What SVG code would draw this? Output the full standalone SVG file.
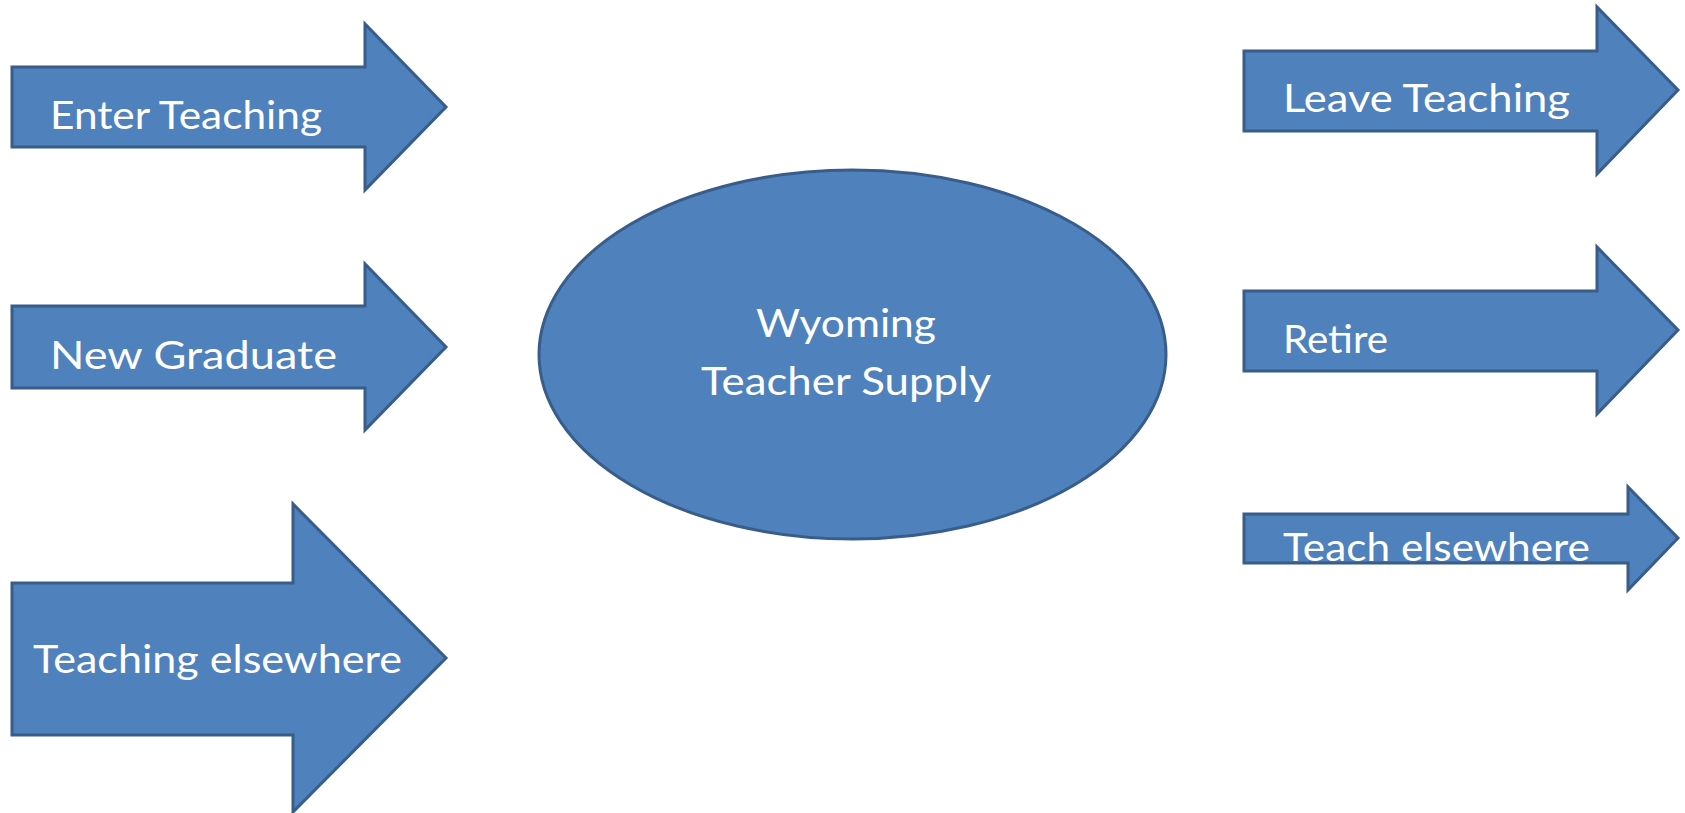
<svg xmlns="http://www.w3.org/2000/svg" width="1685" height="813" viewBox="0 0 1685 813">
<style>
.shape{fill:#4F81BD;stroke:#385D8A;stroke-width:3;stroke-linejoin:miter}
.lbl{font-family:Lato,"Open Sans","Liberation Sans",sans-serif;font-size:39px;fill:#FFFFFF}
</style>
<rect width="1685" height="813" fill="#FFFFFF"/>
<g id="enter-teaching">
<path class="shape" d="M12,67 H365 V24 L446,107 L365,190 V147 H12 Z"/>
<text class="lbl" x="50" y="129" textLength="272" lengthAdjust="spacingAndGlyphs">Enter Teaching</text>
</g>
<g id="new-graduate">
<path class="shape" d="M12,306 H365 V264 L446,347 L365,430 V388 H12 Z"/>
<text class="lbl" x="50" y="369" textLength="287" lengthAdjust="spacingAndGlyphs">New Graduate</text>
</g>
<g id="teaching-elsewhere">
<path class="shape" d="M12,583 H293 V504 L446,658 L293,812 V735 H12 Z"/>
<text class="lbl" x="33" y="673" textLength="369" lengthAdjust="spacingAndGlyphs">Teaching elsewhere</text>
</g>
<g id="teacher-supply">
<ellipse class="shape" cx="852.5" cy="354.5" rx="313.5" ry="184.5"/>
<text class="lbl" x="846" y="337" text-anchor="middle" textLength="180" lengthAdjust="spacingAndGlyphs">Wyoming</text>
<text class="lbl" x="846" y="395" text-anchor="middle" textLength="290" lengthAdjust="spacingAndGlyphs">Teacher Supply</text>
</g>
<g id="leave-teaching">
<path class="shape" d="M1244,51 H1597 V7 L1678,90 L1597,174 V131 H1244 Z"/>
<text class="lbl" x="1283" y="112" textLength="287" lengthAdjust="spacingAndGlyphs">Leave Teaching</text>
</g>
<g id="retire">
<path class="shape" d="M1244,291 H1597 V247 L1678,330 L1597,414 V371 H1244 Z"/>
<text class="lbl" x="1283" y="353" textLength="105" lengthAdjust="spacingAndGlyphs">Retire</text>
</g>
<g id="teach-elsewhere">
<path class="shape" d="M1244,514 H1628 V487 L1678,538 L1628,590 V563 H1244 Z"/>
<text class="lbl" x="1283" y="561" textLength="307" lengthAdjust="spacingAndGlyphs">Teach elsewhere</text>
</g>
</svg>
